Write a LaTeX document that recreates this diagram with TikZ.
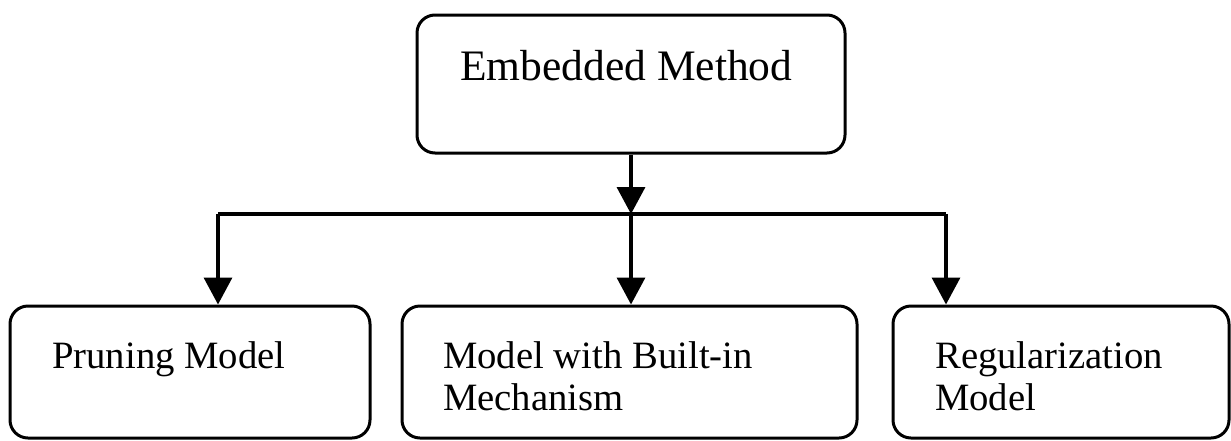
\documentclass[tikz,border=0pt]{standalone}
\usepackage{fontspec}
\setmainfont{Liberation Serif}
\usetikzlibrary{arrows.meta}
\begin{document}
\begin{tikzpicture}[x=1pt,y=1pt,
  box/.style={draw, line width=3pt, rounded corners=18pt, inner sep=0pt},
  toplbl/.style={inner sep=0pt, font=\fontsize{43.5}{48}\selectfont},
  lbl/.style={inner sep=0pt, align=left, font=\fontsize{38.7}{42}\selectfont},
  arr/.style={line width=3.5pt, -{Triangle[length=27pt,width=28pt]}},
  bus/.style={line width=4pt}]
\useasboundingbox (0,0) rectangle (1231,-440);

% root box
\node[box, minimum width=428pt, minimum height=138pt] (root) at (631,-84) {};
\node[toplbl, anchor=base west] (roottxt) at (460,-80) {Embedded Method};

% child boxes
\node[box, minimum width=360pt, minimum height=132pt] (b1) at (190,-372) {};
\node[box, minimum width=455pt, minimum height=132pt] (b2) at (629.5,-372) {};
\node[box, minimum width=336pt, minimum height=132pt] (b3) at (1061,-372) {};

% labels (base anchor sits on the last line's baseline)
\node[lbl, anchor=base west] (t1) at (52,-368) {Pruning Model};
\node[lbl, anchor=base west] (t2) at (443,-410) {Model with Built-in\\Mechanism};
\node[lbl, anchor=base west] (t3) at (935,-410) {Regularization\\Model};

% distribution bus
\coordinate (hub) at (631,-214);
\coordinate (busL) at (218,-214);
\coordinate (busR) at (946,-214);
\draw[bus] (busL) -- (busR);

\draw[arr] (root.south -| hub) -- (hub);
\draw[arr] (busL) -- (busL |- b1.north);
\draw[arr] (hub) -- (hub |- b2.north);
\draw[arr] (busR) -- (busR |- b3.north);
\end{tikzpicture}
\end{document}
